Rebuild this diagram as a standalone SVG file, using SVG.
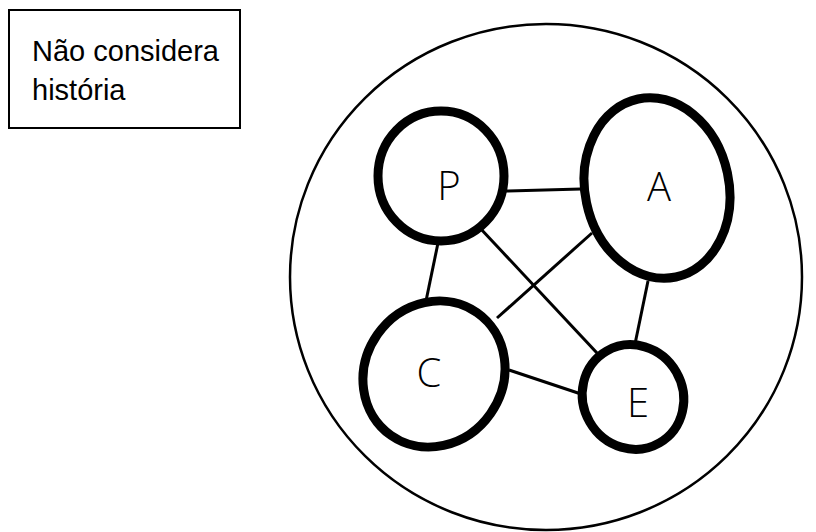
<svg xmlns="http://www.w3.org/2000/svg" width="816" height="532" viewBox="0 0 816 532">
<style>
.node{fill:#fff;stroke:#000;stroke-width:9}
.lbl{font-family:"Open Sans","DejaVu Sans",sans-serif;font-size:40px;font-weight:300;fill:#000;text-anchor:middle}
.edge{stroke:#000;stroke-width:3;fill:none}
.note{font-family:"Liberation Sans",Arial,sans-serif;font-size:29px;fill:#000}
</style>
<rect width="816" height="532" fill="#fff"/>
<g id="note">
<rect x="9" y="10" width="231" height="118" fill="#fff" stroke="#000" stroke-width="2"/>
<text class="note" x="32" y="61">Não considera</text>
<text class="note" x="32" y="100">história</text>
</g>
<g id="boundary">
<ellipse cx="546" cy="277" rx="256" ry="253" fill="none" stroke="#000" stroke-width="2.5"/>
</g>
<g id="connectors">
<line class="edge" x1="506" y1="191" x2="581" y2="189"/>
<line class="edge" x1="438" y1="243" x2="426" y2="301"/>
<line class="edge" x1="480" y1="228" x2="597" y2="353"/>
<line class="edge" x1="592" y1="233" x2="497" y2="318"/>
<line class="edge" x1="648" y1="281" x2="635" y2="344"/>
<line class="edge" x1="509" y1="370" x2="581" y2="394"/>
</g>
<g id="node-P">
<ellipse class="node" cx="441" cy="176" rx="63" ry="65"/>
<text class="lbl" x="449" y="200">P</text>
</g>
<g id="node-A">
<ellipse class="node" cx="657" cy="188" rx="72" ry="91" transform="rotate(-12 657 188)"/>
<text class="lbl" x="659" y="201">A</text>
</g>
<g id="node-C">
<ellipse class="node" cx="434" cy="374" rx="69" ry="75" transform="rotate(35 434 374)"/>
<text class="lbl" x="429" y="387">C</text>
</g>
<g id="node-E">
<ellipse class="node" cx="633" cy="397" rx="50" ry="53" transform="rotate(-30 633 397)"/>
<text class="lbl" x="638" y="417">E</text>
</g>
</svg>
